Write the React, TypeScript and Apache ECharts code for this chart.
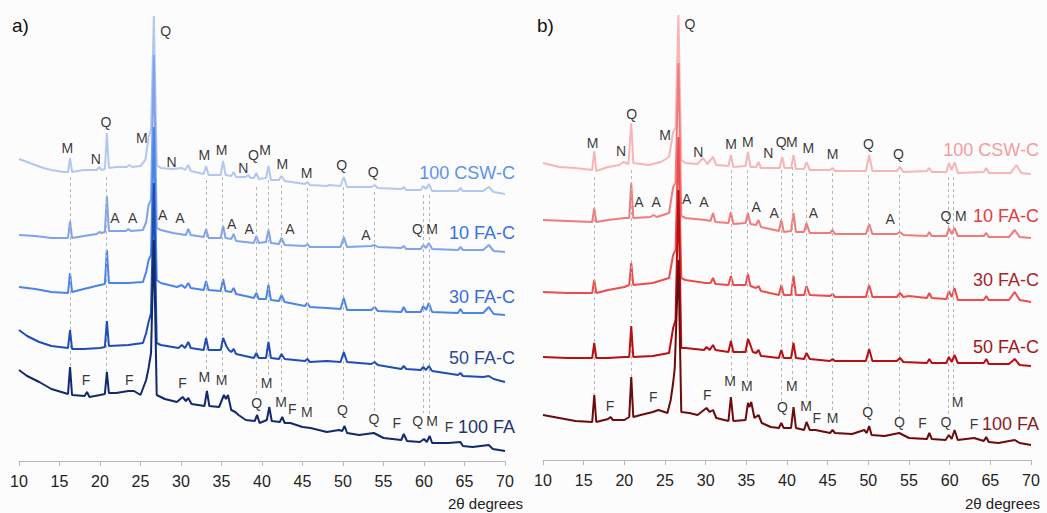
import React, { useEffect, useRef } from "react";
import * as echarts from "echarts";

type P = [number, number];
type L = [number, number, string];
type D = [number, number, number];

// ---------- panel a) traces : [2θ, intensity] ----------
const A_CSW: P[] = [[10,302],[11,299],[12,296],[13,293],[14,291],[15.5,289],[16.05,289],[16.3,303],[16.55,289],[18,291],[19.6,291],[19.9,294],[20.2,291],[20.6,292],[20.85,328],[21.1,293],[22,294],[23.3,294],[23.6,296],[24,294],[25,295],[25.6,301],[26.0,324],[26.3,331],[26.65,445],[27.0,296],[27.5,293],[29,292],[30.1,293],[30.5,291],[30.9,296],[31.2,290],[32.8,287],[33.1,295],[33.4,286],[34.9,286],[35.2,300],[35.5,286],[36.2,285],[36.5,289],[36.8,284],[38,284],[38.3,286],[38.6,283],[39.0,283],[39.3,288],[39.6,282],[40.5,283],[40.8,295],[41.1,281],[42.1,281],[42.4,285],[42.8,280],[45.3,277],[45.6,279],[45.9,276],[48,275],[48.3,276],[49.7,275],[50.1,284],[50.5,274],[53.5,274],[53.9,276],[54.3,273],[57.2,272],[57.5,274],[57.8,271],[59.6,271],[59.9,275],[60.25,272],[60.6,277],[61,270],[64.2,270],[64.5,273],[64.8,270],[67.3,270],[68,274],[68.6,269],[70,267]];
const A_FA10: P[] = [[10,226],[12,225],[14,223],[16.05,223],[16.3,240],[16.55,223],[18,225],[19.6,227],[19.9,229],[20.2,228],[20.6,229],[20.85,265],[21.1,230],[23.2,230],[23.5,232],[23.8,230],[25.3,231],[25.7,239],[26.0,256],[26.3,261],[26.65,406],[27.0,233],[27.5,231],[29,228],[30.6,226],[30.9,232],[31.2,226],[32.8,224],[33.1,232],[33.4,223],[34.9,223],[35.2,235],[35.5,223],[36.2,222],[36.5,227],[36.8,220],[39.0,218],[39.3,225],[39.6,218],[40.5,219],[40.8,231],[41.1,218],[42.1,217],[42.4,223],[42.8,216],[45.3,215],[45.6,217],[45.9,214],[49.7,214],[50.1,224],[50.5,214],[53.5,215],[53.9,216],[54.3,214],[57.2,213],[57.5,215],[57.8,212],[59.6,212],[59.9,216],[60.25,213],[60.6,218],[61,212],[64.2,211],[64.5,214],[64.8,211],[67.3,211],[68,216],[68.6,210],[70,209]];
const A_FA30: P[] = [[10,174],[12,172],[14,169],[16.05,168],[16.3,188],[16.55,169],[18,172],[20,176],[20.6,177],[20.85,211],[21.1,178],[23.5,178],[25.3,179],[25.7,189],[26.0,201],[26.3,206],[26.65,334],[27.0,181],[27.5,178],[29.5,174],[30.1,176],[30.5,173],[30.9,178],[31.2,173],[32.8,171],[33.1,180],[33.4,171],[34.9,170],[35.2,182],[35.5,170],[36.2,169],[36.5,173],[36.8,167],[38.5,164],[39.0,163],[39.3,168],[39.6,162],[40.5,162],[40.8,176],[41.1,161],[42.1,160],[42.4,166],[42.8,159],[45.3,155],[45.6,158],[45.9,154],[48,153],[49.7,152],[50.1,163],[50.5,151],[53.5,151],[53.9,154],[54.3,150],[57.2,149],[57.5,154],[57.8,149],[59.6,149],[59.9,155],[60.25,151],[60.6,158],[61,149],[64.2,148],[64.5,152],[64.8,148],[67.3,148],[68,154],[68.6,147],[70,146]];
const A_FA50: P[] = [[10,131],[11,125],[12.5,119],[14,115],[16.05,113],[16.3,131],[16.55,112],[18,112],[20,113],[20.6,114],[20.85,140],[21.1,115],[23.5,116],[25.3,118],[25.7,128],[26.0,139],[26.3,148],[26.65,278],[27.0,118],[27.5,116],[29.7,113],[30.1,116],[30.5,113],[30.9,119],[31.2,113],[32.8,111],[33.1,123],[33.4,111],[34.9,111],[35.2,123],[35.6,115],[35.9,111],[36.2,109],[36.5,112],[36.8,107],[39.0,103],[39.3,108],[39.6,103],[40.5,103],[40.8,119],[41.1,103],[42.1,102],[42.4,107],[42.8,102],[45.3,100],[45.6,102],[45.9,99],[48,100],[49.7,99],[50.1,109],[50.5,99],[53.5,97],[53.9,99],[54.3,96],[57.2,92],[57.5,95],[57.8,92],[59.6,91],[59.9,94],[60.25,91],[60.6,95],[61,90],[64.2,86],[64.5,88],[64.8,85],[67.3,84],[68,85],[68.6,82],[70,79]];
const A_FA100: P[] = [[10,91],[11,85],[12.5,79],[14,72],[16.05,67],[16.3,94],[16.55,66],[18.1,65],[18.4,69],[18.7,64],[20,66],[20.6,67],[20.85,89],[21.1,68],[22,68],[23.5,70],[24.2,70],[25,66],[25.7,81],[26.0,93],[26.3,108],[26.65,221],[27.0,66],[28,62],[29.5,59],[30.2,64],[30.6,60],[30.9,63],[31.3,57],[32.9,55],[33.2,70],[33.5,55],[34.7,54],[35.3,66],[35.55,62],[35.8,66],[36.2,51],[36.7,49],[37.1,46],[38,41],[39.1,40],[39.4,46],[39.7,38],[40.6,41],[40.9,54],[41.2,40],[42.2,39],[42.5,44],[42.8,38],[43.5,38],[45,34],[46,33],[48,29],[49.5,31],[49.9,30],[50.2,35],[50.5,28],[52,26],[53.8,28],[55,23],[57.2,21],[57.5,27],[57.9,20],[59.5,19],[60.0,22],[60.35,19],[60.7,25],[61,18],[63,18],[64.5,19],[64.8,15],[66,14],[68,16],[68.5,12],[70,10]];

// ---------- panel b) traces ----------
const B_CSW: P[] = [[10,297],[12,293],[14,292],[16.05,290],[16.3,309],[16.55,289],[18,293],[19.4,295],[19.9,298],[20.5,296],[20.85,337],[21.1,297],[23,295],[24.5,298],[25.5,303],[26.0,328],[26.3,332],[26.65,445],[27.0,300],[27.5,297],[29,296],[29.7,302],[30.2,296],[30.9,303],[31.3,295],[32.8,294],[33.1,305],[33.4,293],[34.9,294],[35.2,308],[35.5,293],[36.2,293],[36.5,298],[36.8,292],[39.1,292],[39.4,303],[39.7,292],[40.5,292],[40.8,305],[41.1,291],[42.1,291],[42.4,298],[42.8,290],[45.3,290],[45.6,292],[45.9,289],[49.7,289],[50.1,305],[50.5,289],[53.5,289],[53.9,293],[54.3,288],[57.2,289],[57.5,292],[57.8,288],[59.6,288],[59.9,297],[60.25,290],[60.6,298],[61,287],[64.2,288],[64.5,292],[64.8,287],[67.5,287],[68.2,295],[68.8,287],[70,286]];
const B_FA10: P[] = [[10,240],[13,239],[16.05,238],[16.3,252],[16.55,238],[18,240],[20,242],[20.6,242],[20.85,277],[21.1,242],[23.2,243],[23.6,245],[24,243],[25.5,247],[26.0,273],[26.3,277],[26.65,397],[27.0,244],[27.5,242],[30,240],[30.6,239],[30.9,247],[31.2,238],[32.8,237],[33.1,248],[33.4,236],[34.9,237],[35.2,247],[35.5,236],[36.2,235],[36.5,240],[36.8,233],[39.0,229],[39.3,240],[39.6,228],[40.5,229],[40.8,247],[41.1,228],[42.1,228],[42.4,237],[42.8,227],[45.3,227],[45.6,230],[45.9,226],[49.7,226],[50.1,236],[50.5,226],[53.5,226],[53.9,228],[54.3,225],[57.2,224],[57.5,228],[57.8,224],[59.6,224],[59.9,232],[60.25,226],[60.6,232],[61,224],[64.2,224],[64.5,227],[64.8,223],[67.3,223],[68,230],[68.6,223],[70,222]];
const B_FA30: P[] = [[10,168],[13,167],[16.05,167],[16.3,180],[16.55,167],[18,170],[20,173],[20.6,175],[20.85,197],[21.1,175],[23.5,177],[25.5,182],[26.0,205],[26.3,210],[26.65,323],[27.0,182],[27.5,180],[30,177],[30.6,177],[30.9,182],[31.2,176],[32.8,175],[33.1,184],[33.4,175],[34.9,175],[35.2,186],[35.5,174],[36.2,172],[36.5,174],[36.8,169],[39.0,165],[39.3,175],[39.6,165],[40.5,165],[40.8,184],[41.1,165],[42.1,165],[42.4,174],[42.8,165],[45.3,164],[45.6,166],[45.9,163],[49.7,163],[50.1,175],[50.5,163],[53.5,163],[53.9,167],[54.3,163],[55,164],[57.2,162],[57.5,167],[57.8,162],[59.6,161],[59.9,169],[60.25,163],[60.6,172],[61,160],[64.2,160],[64.5,164],[64.8,160],[67.3,160],[68,168],[68.6,160],[70,158]];
const B_FA50: P[] = [[10,103],[13,102],[16.05,102],[16.3,117],[16.55,102],[18,102],[20,103],[20.6,103],[20.85,134],[21.1,103],[23.5,104],[25.5,107],[26.0,132],[26.3,140],[26.65,270],[27.0,112],[27.5,112],[29.8,110],[30.1,113],[30.5,110],[30.9,115],[31.2,110],[32.8,108],[33.1,119],[33.4,108],[34.9,108],[35.2,121],[35.5,115],[35.8,108],[36.2,107],[36.5,110],[36.8,104],[39.0,102],[39.3,110],[39.6,102],[40.5,102],[40.8,117],[41.1,102],[42.1,101],[42.4,107],[42.8,101],[45.3,99],[45.6,101],[45.9,99],[49.7,99],[50.1,111],[50.5,99],[53.5,99],[53.9,102],[54.3,98],[57.2,97],[57.5,101],[57.8,97],[59.6,97],[59.9,103],[60.25,98],[60.6,105],[61,97],[64.2,97],[64.5,101],[64.8,96],[67.3,96],[68,101],[68.6,95],[70,94]];
const B_FA100: P[] = [[10,45],[12,42],[14,39],[16.05,38],[16.3,65],[16.55,38],[18,41],[18.3,43],[18.6,40],[20,40],[20.6,43],[20.85,83],[21.1,43],[22,45],[23.5,48],[24.2,50],[25.3,47],[25.7,60],[26.0,77],[26.2,92],[26.65,200],[27.0,48],[28,47],[29,45],[30.1,52],[30.5,48],[30.9,50],[31.3,42],[32.8,39],[33.1,63],[33.4,39],[34.9,40],[35.2,57],[35.4,53],[35.6,58],[36.0,42],[36.5,45],[36.9,37],[38,33],[39.0,32],[39.3,37],[39.6,32],[40.5,32],[40.8,53],[41.1,32],[42.1,30],[42.4,38],[42.8,30],[43.5,30],[45.3,27],[45.6,30],[45.9,27],[48,26],[49.5,30],[49.8,27],[50.1,34],[50.4,25],[52,24],[53.8,27],[55,22],[57.2,21],[57.5,27],[57.8,21],[59.5,20],[59.9,25],[60.25,21],[60.6,30],[61,20],[63,22],[64.2,19],[64.5,23],[64.8,18],[66,17],[68,20],[68.6,17],[70,15]];

// ---------- phase letters : [2θ, intensity, letter] ----------
const LETTERS_A: L[] = [[15.96,313,"M"],[19.47,302,"N"],[20.74,339,"Q"],[25.15,323,"M"],[28.1,430,"Q"],[28.85,299,"N"],[32.88,306,"M"],[35.02,311,"M"],[37.7,293,"N"],[38.93,306,"Q"],[40.37,311,"M"],[42.5,297,"M"],[45.5,288,"M"],[49.84,296,"Q"],[53.74,289,"Q"],
  [21.85,243,"A"],[24.04,243,"A"],[27.74,246,"A"],[29.88,243,"A"],[36.26,237,"A"],[38.43,232,"A"],[43.46,232,"A"],[52.84,226,"A"],[59.18,232,"Q"],[61.0,232,"M"],
  [18.27,81,"F"],[23.6,81,"F"],[30.2,78,"F"],[32.88,84,"M"],[35.0,81,"M"],[40.58,78,"M"],[39.34,58,"Q"],[42.35,59,"M"],[43.74,52,"F"],[45.52,49,"M"],[49.92,51,"Q"],[53.83,42,"Q"],[56.63,38,"F"],[59.22,40,"Q"],[61.0,40,"M"],[63.1,34,"F"]];
const LETTERS_B: L[] = [[16.11,317,"M"],[19.59,309,"N"],[20.91,346,"Q"],[25.0,325,"M"],[28.08,436,"Q"],[29.1,308,"N"],[33.12,316,"M"],[35.18,318,"M"],[37.7,307,"N"],[39.27,318,"Q"],[40.6,318,"M"],[42.63,312,"M"],[45.59,306,"M"],[50.0,316,"Q"],[53.7,306,"Q"],
  [21.8,258,"A"],[23.9,258,"A"],[27.67,261,"A"],[29.8,258,"A"],[36.2,253,"A"],[38.41,247,"A"],[43.25,247,"A"],[52.68,241,"A"],[59.53,244,"Q"],[61.38,244,"M"],
  [18.24,54,"F"],[23.57,63,"F"],[30.2,65,"F"],[33.0,79,"M"],[35.05,74,"M"],[40.6,74,"M"],[39.43,53,"Q"],[42.35,54,"M"],[43.66,42,"F"],[45.59,42,"M"],[49.93,48,"Q"],[53.83,38,"Q"],[56.66,37,"F"],[59.53,38,"Q"],[60.96,58,"M"],[63.01,36,"F"]];

// ---------- dashed reference lines : [2θ, top, bottom] ----------
const DASH_A: D[] = [[16.3,284,94],[20.8,284,89],[33.15,281,88],[35.15,284,84],[39.35,274,64],[40.75,281,84],[42.4,276,68],[45.55,273,56],[50.05,274,58],[53.9,269,48],[59.85,266,48],[60.6,266,46]];
const DASH_B: D[] = [[16.35,283,65],[20.8,290,82],[33.1,290,82],[35.1,290,77],[39.3,290,58],[40.7,293,80],[42.35,287,58],[45.6,287,47],[50.0,285,53],[53.8,285,43],[59.8,283,43],[60.5,283,63]];

const SAMPLES = ["100 CSW-C", "10 FA-C", "30 FA-C", "50 FA-C", "100 FA"];
const TRACES_A = [A_CSW, A_FA10, A_FA30, A_FA50, A_FA100];
const TRACES_B = [B_CSW, B_FA10, B_FA30, B_FA50, B_FA100];

const BLUE_LINE = ["#b3c8f1", "#7fa4ec", "#4a84e8", "#1f4db5", "#122a6c"];
const BLUE_TEXT = ["#5f92e8", "#3572e2", "#3a6bd8", "#2d4a92", "#1e3370"];
const RED_LINE = ["#f7b5b7", "#f07b7c", "#ee4c4c", "#b80f12", "#6c0a0c"];
const RED_TEXT = ["#f29c9e", "#e63b3d", "#a7262a", "#a51518", "#8a1a1c"];

const FONT = '"Liberation Sans", Arial, sans-serif';

export default function App() {
  const ref = useRef<HTMLDivElement>(null);
  useEffect(() => {
    if (!ref.current) return;
    const chart = echarts.init(ref.current, undefined, { renderer: "svg" });

    const axisX = (gi: number) => ({
      type: "value", gridIndex: gi, min: 10, max: 70, interval: 5,
      axisLine: { lineStyle: { color: "#b8b8b8", width: 1 } },
      axisTick: { show: true, length: 5, lineStyle: { color: "#b8b8b8" } },
      axisLabel: { fontSize: 16, color: "#222", margin: 12, fontFamily: FONT },
      splitLine: { show: false },
    });
    const axisY = (gi: number) => ({ type: "value", gridIndex: gi, min: 0, max: 445, show: false });

    const series: any[] = [];
    const addPanel = (gi: number, traces: P[][], lineColors: string[], letters: L[], dashes: D[]) => {
      series.push({
        type: "line", xAxisIndex: gi, yAxisIndex: gi, data: [], z: 1, silent: true,
        markLine: {
          silent: true, symbol: ["none", "none"], label: { show: false },
          lineStyle: { type: [3, 3], color: "#b4b4b4", width: 1 },
          data: dashes.map(([x, y1, y2]) => [{ coord: [x, y1] }, { coord: [x, y2] }]),
        },
      });
      traces.forEach((t, i) => {
        series.push({
          name: SAMPLES[i], type: "line", xAxisIndex: gi, yAxisIndex: gi, data: t,
          showSymbol: false, symbol: "none", z: 2 + i, silent: true,
          lineStyle: { width: 2, color: lineColors[i] },
        });
      });
      series.push({
        type: "scatter", xAxisIndex: gi, yAxisIndex: gi, z: 10, silent: true,
        symbolSize: 1, itemStyle: { color: "rgba(0,0,0,0)" },
        data: letters.map(([x, y, s]) => ({ value: [x, y], name: s })),
        label: { show: true, position: "inside", formatter: "{b}", color: "#000", fontSize: 14, fontFamily: FONT },
      });
    };
    addPanel(0, TRACES_A, BLUE_LINE, LETTERS_A, DASH_A);
    addPanel(1, TRACES_B, RED_LINE, LETTERS_B, DASH_B);

    const nameYA = [173, 233, 297, 358, 427];
    const nameYB = [150, 216, 280, 347, 424];
    const txt = (x: number, y: number, text: string, fill: string, size: number, align = "right") => ({
      type: "text", x, y, silent: true,
      style: { text, fill, fontSize: size, fontFamily: FONT, align, verticalAlign: "middle", textAlign: align, textVerticalAlign: "middle" },
    });
    const graphic: any[] = [
      txt(12, 25, "a)", "#111", 19, "left"),
      txt(537, 25, "b)", "#111", 19, "left"),
      txt(523, 503, "2θ degrees", "#222", 15),
      txt(1040, 503, "2θ degrees", "#222", 15),
      ...SAMPLES.map((s, i) => txt(515, nameYA[i], s, BLUE_TEXT[i], 18)),
      ...SAMPLES.map((s, i) => txt(1039, nameYB[i], s, RED_TEXT[i], 18)),
    ];

    chart.setOption({
      animation: false,
      backgroundColor: "#fcfcfc",
      grid: [
        { left: 19, right: 542, top: 16, bottom: 52 },
        { left: 543, right: 16, top: 15, bottom: 53 },
      ],
      xAxis: [axisX(0), axisX(1)],
      yAxis: [axisY(0), axisY(1)],
      series,
      graphic,
    });
    return () => chart.dispose();
  }, []);
  return <div ref={ref} style={{ position: "fixed", left: 0, top: 0, width: 1047, height: 513 }} />;
}
